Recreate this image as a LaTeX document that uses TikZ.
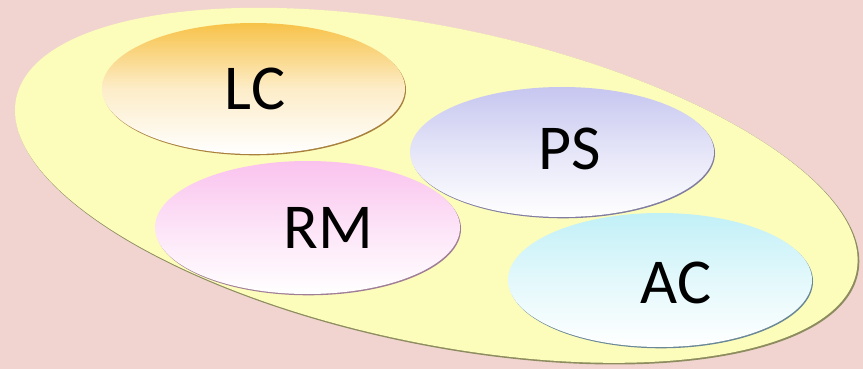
\documentclass[tikz,border=0pt]{standalone}
\usepackage{fontspec}
\setmainfont{Carlito}
\usetikzlibrary{shapes.geometric}
\definecolor{bgpink}{RGB}{241,212,207}
\definecolor{bigfill}{RGB}{252,252,187}
\definecolor{bigshadow}{RGB}{140,140,95}
\definecolor{lctop}{RGB}{247,194,72}
\definecolor{lcsh}{RGB}{168,128,60}
\definecolor{pstop}{RGB}{198,198,240}
\definecolor{pssh}{RGB}{128,125,160}
\definecolor{rmtop}{RGB}{250,194,238}
\definecolor{rmsh}{RGB}{160,125,150}
\definecolor{actop}{RGB}{193,240,247}
\definecolor{acsh}{RGB}{105,135,150}
\tikzset{
  blob/.style={ellipse, inner sep=0pt, draw=none},
  lbl/.style={anchor=base, inner sep=0pt, font=\fontsize{64}{70}\selectfont, text=black}
}
\begin{document}
\begin{tikzpicture}[x=1pt,y=1pt]
\fill[bgpink] (0,0) rectangle (863,-369);
\useasboundingbox (0,0) rectangle (863,-369);
% big ellipse
\fill[bigshadow, rotate around={-11.7:(437.5,-186.5)}] (437.5,-186.5) ellipse [x radius=429.5, y radius=158.5];
\fill[bigfill, rotate around={-11.7:(436.3,-185.3)}] (436.3,-185.3) ellipse [x radius=429, y radius=158];
% shadows of small ellipses
\fill[lcsh] (254.5,-89.8) ellipse [x radius=151.5, y radius=65.5];
\fill[pssh] (563,-153.3) ellipse [x radius=152, y radius=65];
\fill[rmsh] (308.5,-228.8) ellipse [x radius=152.5, y radius=66.5];
\fill[acsh] (661,-281.3) ellipse [x radius=152, y radius=67];
% small ellipses
\node[blob, minimum width=303pt, minimum height=131pt, top color=lctop, bottom color=white, middle color=lctop!30!white] (lc) at (253.5,-88.5) {};
\node[blob, minimum width=304pt, minimum height=130pt, top color=pstop, bottom color=white, middle color=pstop!45!white] (ps) at (562,-152) {};
\node[blob, minimum width=305pt, minimum height=133pt, top color=rmtop, bottom color=white, middle color=rmtop!45!white] (rm) at (307.5,-227.5) {};
\node[blob, minimum width=304pt, minimum height=134pt, top color=actop, bottom color=white, middle color=actop!45!white] (ac) at (660,-280) {};
% labels
\node[lbl] (lct) at (255,-110) {LC};
\node[lbl] (pst) at (569.5,-169) {PS};
\node[lbl] (rmt) at (328.5,-248) {RM};
\node[lbl] (act) at (676,-303) {AC};
\end{tikzpicture}
\end{document}
